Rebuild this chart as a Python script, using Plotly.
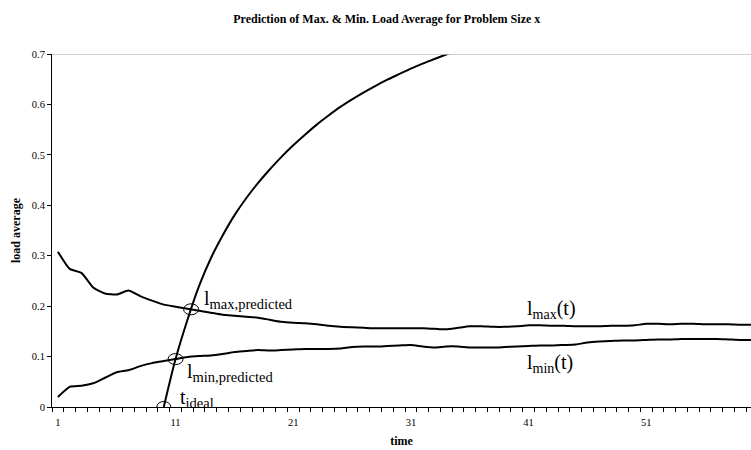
import plotly.graph_objects as go

# ---------------- data ----------------
time = list(range(1, 61))
l_max = [0.308, 0.274, 0.266, 0.237, 0.225, 0.223, 0.231, 0.220, 0.211, 0.203,
         0.199, 0.195, 0.191, 0.187, 0.183, 0.181, 0.179, 0.177, 0.173, 0.169,
         0.167, 0.166, 0.164, 0.161, 0.159, 0.158, 0.157, 0.156, 0.156, 0.156,
         0.156, 0.156, 0.155, 0.154, 0.157, 0.160, 0.160, 0.159, 0.159, 0.160,
         0.162, 0.162, 0.161, 0.161, 0.160, 0.160, 0.160, 0.161, 0.161, 0.162,
         0.165, 0.165, 0.164, 0.165, 0.165, 0.164, 0.164, 0.164, 0.163, 0.163]
l_min = [0.020, 0.040, 0.042, 0.047, 0.058, 0.069, 0.073, 0.081, 0.087, 0.091,
         0.095, 0.099, 0.101, 0.102, 0.105, 0.109, 0.111, 0.113, 0.112, 0.113,
         0.114, 0.115, 0.115, 0.115, 0.116, 0.119, 0.120, 0.120, 0.121, 0.122,
         0.123, 0.120, 0.118, 0.120, 0.120, 0.118, 0.118, 0.118, 0.119, 0.120,
         0.121, 0.122, 0.122, 0.123, 0.124, 0.128, 0.130, 0.131, 0.132, 0.132,
         0.133, 0.134, 0.134, 0.135, 0.135, 0.135, 0.135, 0.134, 0.133, 0.133]
curve_t = list(range(10, 36))
curve_v = [0.000, 0.095, 0.172, 0.240, 0.295, 0.340, 0.380, 0.414, 0.444, 0.471,
           0.496, 0.519, 0.540, 0.560, 0.578, 0.595, 0.610, 0.624, 0.637, 0.649,
           0.660, 0.671, 0.681, 0.690, 0.699, 0.708]
x_tick_vals = [1, 11, 21, 31, 41, 51]
y_tick_vals = [0, 0.1, 0.2, 0.3, 0.4, 0.5, 0.6, 0.7]

TITLE = "Prediction of Max. & Min. Load Average for Problem Size x"
SERIF = "Liberation Serif, Times New Roman, serif"


def crossing(ct, cv, series):
    """First crossing of the curve with a series (linear between samples)."""
    for i in range(len(ct) - 1):
        t0, t1 = ct[i], ct[i + 1]
        d0 = cv[i] - series[t0 - 1]
        d1 = cv[i + 1] - series[t1 - 1]
        if d0 <= 0 <= d1 or d0 >= 0 >= d1:
            f = 0 if d1 == d0 else d0 / (d0 - d1)
            t = t0 + f * (t1 - t0)
            v = cv[i] + f * (cv[i + 1] - cv[i])
            return t, v
    return ct[0], cv[0]


fig = go.Figure()
line_style = dict(color="black", width=2)
fig.add_trace(go.Scatter(x=time, y=l_max, mode="lines",
                         line=dict(**line_style, shape="spline", smoothing=0.5),
                         showlegend=False, hoverinfo="skip"))
fig.add_trace(go.Scatter(x=time, y=l_min, mode="lines",
                         line=dict(**line_style, shape="spline", smoothing=0.5),
                         showlegend=False, hoverinfo="skip"))
fig.add_trace(go.Scatter(x=curve_t, y=curve_v, mode="lines",
                         line=dict(**line_style, shape="spline", smoothing=0.8),
                         showlegend=False, hoverinfo="skip"))

# circles marking the key points
pts = [
    (curve_t[0], curve_v[0], 7, 5.5),
    crossing(curve_t, curve_v, l_min) + (7.5, 5.5),
    crossing(curve_t, curve_v, l_max) + (7.5, 5.5),
]
for (px, py, rx, ry) in pts:
    fig.add_shape(type="circle", xref="x", yref="y", xsizemode="pixel", ysizemode="pixel",
                  xanchor=px, yanchor=py, x0=-rx, x1=rx, y0=-ry, y1=ry,
                  line=dict(color="black", width=1), fillcolor="rgba(0,0,0,0)")

# top border at 0.7
fig.add_shape(type="line", xref="paper", yref="y", x0=0, x1=1, y0=0.7, y1=0.7,
              line=dict(color="#c0c0c0", width=1.5))

ann_font = dict(family=SERIF, size=20, color="black")
big_sub = "<span style='font-size:14.5px'>%s</span>"
labels = [
    ("l<sub>" + big_sub % "max,predicted" + "</sub>", 13.25, 0.213),
    ("l<sub>" + big_sub % "min,predicted" + "</sub>", 11.8, 0.069),
    ("t<sub>" + big_sub % "ideal" + "</sub>", 11.2, 0.017),
    ("l<sub>max</sub>(t)", 40.7, 0.193),
    ("l<sub>min</sub>(t)", 40.7, 0.086),
]
for txt, ax_, ay_ in labels:
    fig.add_annotation(x=ax_, y=ay_, xref="x", yref="y", text=txt, showarrow=False,
                       xanchor="left", yanchor="middle", font=ann_font)

fig.update_layout(
    width=751, height=450,
    margin=dict(l=52, r=0, t=53.5, b=43),
    paper_bgcolor="white", plot_bgcolor="white",
    title=dict(text="<b>" + TITLE + "</b>", x=0.515, xanchor="center", y=0.958, yanchor="middle",
               font=dict(family=SERIF, size=12, color="black")),
    font=dict(family=SERIF, size=10, color="black"),
    xaxis=dict(
        range=[0.5, 59.9], showgrid=False, zeroline=False,
        showline=True, linecolor="black", linewidth=1,
        tickmode="array", tickvals=x_tick_vals, ticktext=[str(v) for v in x_tick_vals],
        ticks="outside", ticklen=5, tickcolor="rgba(0,0,0,0)",
        minor=dict(ticks="outside", ticklen=4, tickcolor="black", tick0=0.5, dtick=1, showgrid=False),
        tickfont=dict(family=SERIF, size=10.5),
        title=dict(text="<b>time</b>", font=dict(family=SERIF, size=12), standoff=10),
    ),
    yaxis=dict(
        range=[0, 0.7], showgrid=False, zeroline=False,
        showline=True, linecolor="black", linewidth=1,
        tickmode="array", tickvals=y_tick_vals, ticktext=[("%g" % v) for v in y_tick_vals],
        ticks="outside", ticklen=4, tickcolor="black",
        tickfont=dict(family=SERIF, size=10.5),
        title=dict(text="<b>load average</b>", font=dict(family=SERIF, size=12), standoff=8),
    ),
)

fig.write_html("out.html")
